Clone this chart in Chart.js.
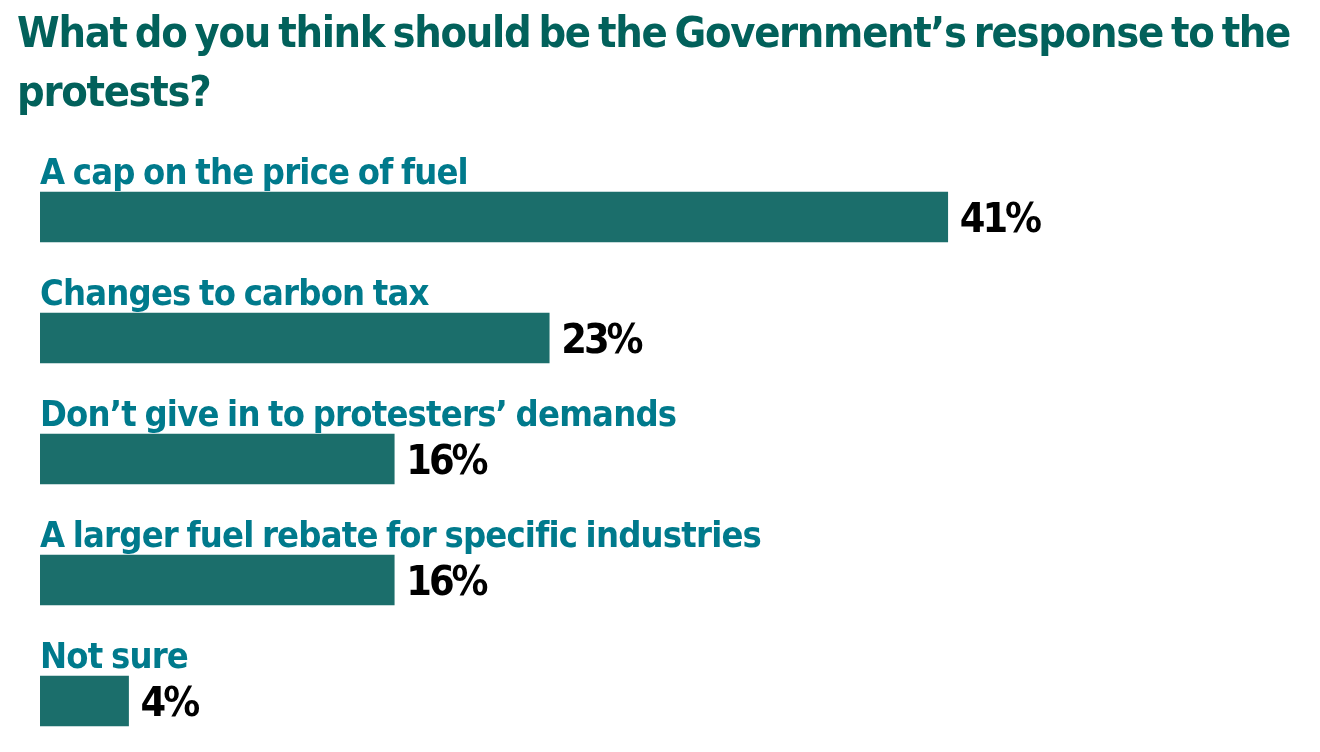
<!DOCTYPE html>
<html lang="en">
<head>
  <meta charset="UTF-8">
  <title>Government response to the protests</title>
  <script src="https://cdn.jsdelivr.net/npm/chart.js"></script>
  <style>
    html, body { margin: 0; padding: 0; background: #fff; overflow: hidden; }
    .wrap { position: relative; width: 1320px; height: 752px; }
    h1 {
      position: absolute; left: 17px; top: 3px; margin: 0; z-index: 2;
      font-family: 'DejaVu Sans Condensed', 'DejaVu Sans', sans-serif;
      font-weight: 700; font-size: 43px; line-height: 59px;
      letter-spacing: -1.3px; word-spacing: -4px;
      color: #02615b; white-space: nowrap;
    }
    canvas { position: absolute; left: 0; top: 0; }
  </style>
</head>
<body>
  <div class="wrap">
    <h1>What do you think should be the Government’s response to the<br>protests?</h1>
    <canvas id="chart" width="1320" height="752"></canvas>
  </div>

  <script>
    const categories = [
      'A cap on the price of fuel',
      'Changes to carbon tax',
      'Don’t give in to protesters’ demands',
      'A larger fuel rebate for specific industries',
      'Not sure'
    ];
    const shares = [41, 23, 16, 16, 4];

    const FONT = "'DejaVu Sans Condensed', 'DejaVu Sans', sans-serif";

    // labels above each bar and the percentage at its end
    const barText = {
      id: 'barText',
      afterDatasetsDraw(chart) {
        const ctx = chart.ctx;
        const meta = chart.getDatasetMeta(0);
        ctx.save();
        ctx.textAlign = 'left';
        ctx.textBaseline = 'alphabetic';
        meta.data.forEach((bar, i) => {
          const top = bar.y - bar.height / 2;
          ctx.fillStyle = '#007a8c';
          ctx.font = 'bold 36px ' + FONT;
          ctx.letterSpacing = '-0.8px';
          ctx.wordSpacing = '-2px';
          ctx.fillText(categories[i], chart.chartArea.left, top - 8);
          ctx.fillStyle = '#000';
          ctx.font = 'bold 41px ' + FONT;
          ctx.letterSpacing = '-3px';
          ctx.fillText(shares[i] + '%', bar.x + 12, bar.y + 15);
        });
        ctx.restore();
      }
    };

    new Chart(document.getElementById('chart'), {
      type: 'bar',
      data: {
        datasets: [{
          data: shares.map((v, i) => ({ x: v, y: i })),
          backgroundColor: '#1b6e6b',
          barThickness: 50
        }]
      },
      options: {
        indexAxis: 'y',
        responsive: false,
        animation: false,
        layout: { padding: { left: 40, right: 173, top: 144.4, bottom: 2.6 } },
        scales: {
          x: { type: 'linear', min: 0, max: 50, display: false },
          y: { type: 'linear', min: -0.6, max: 4.4, reverse: true, offset: false, display: false }
        },
        plugins: { legend: { display: false }, tooltip: { enabled: false } }
      },
      plugins: [barText]
    });
  </script>
</body>
</html>
